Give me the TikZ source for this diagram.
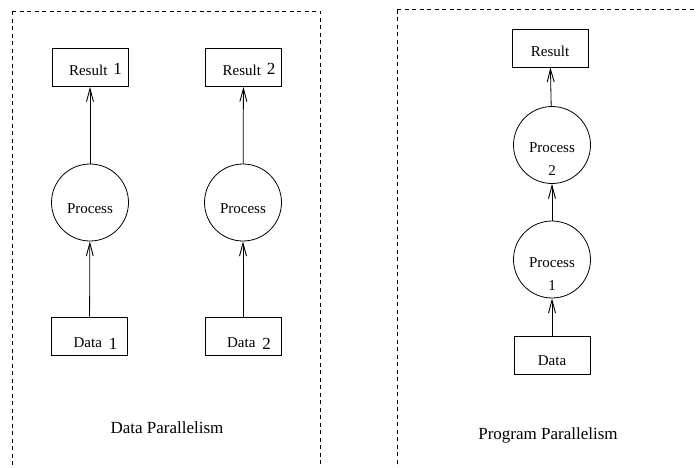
\documentclass[tikz,border=0pt]{standalone}
\usepackage{fontspec}
\setmainfont{Liberation Serif}
\usetikzlibrary{arrows.meta}
% set node text lowered by #1 without changing the node's size
\newcommand\lowtext[2]{\raisebox{-#1}[0pt][0pt]{#2}}
\newcommand\twoline[2]{\begin{tabular}[b]{@{}c@{}}#1\\[6pt]#2\end{tabular}}
\newcommand\idx[1]{{\fontsize{17}{19}\selectfont #1}}
\begin{document}
\begin{tikzpicture}[x=1pt,y=-1pt,
  frame/.style={draw, line width=0.7pt, dash pattern=on 4pt off 3.5pt},
  databox/.style={draw, line width=0.8pt, minimum width=76pt, minimum height=38pt, inner sep=0pt, font=\fontsize{15}{17}\selectfont},
  proc/.style={draw, circle, line width=0.8pt, minimum size=77pt, inner sep=0pt, font=\fontsize{15}{17}\selectfont},
  flow/.style={draw, line width=0.8pt, -{Straight Barb[length=13pt,width=7pt,line width=0.9pt]}},
  caption/.style={font=\fontsize{17}{19}\selectfont}]
\useasboundingbox (0,0) rectangle (696,467);
% dashed frames around the two halves
\draw[frame] (12,11) -- (320.5,11) -- (320.5,467);
\draw[frame] (12,11) -- (12,467);
\draw[frame] (397,9.5) -- (696,9.5);
\draw[frame] (397,9.5) -- (397,467);

% data parallelism
\node[databox] (r1) at (90,67.5) {\lowtext{8pt}{\hspace*{11pt}Result\hspace{6pt}\raisebox{1.5pt}{\idx{1}}}};
\node[databox] (r2) at (243.5,67.5) {\lowtext{8pt}{\hspace*{11pt}Result\hspace{6pt}\raisebox{1.5pt}{\idx{2}}}};
\node[proc] (p1) at (90,202.5) {\lowtext{10.5pt}{Process}};
\node[proc] (p2) at (243,202.5) {\lowtext{10.5pt}{Process}};
\node[databox] (d1) at (89.5,336) {\lowtext{11pt}{\hspace*{12pt}Data\hspace{7pt}\raisebox{-2pt}{\idx{1}}}};
\node[databox] (d2) at (243,336) {\lowtext{11pt}{\hspace*{12pt}Data\hspace{7pt}\raisebox{-2pt}{\idx{2}}}};
\draw[flow] (d1) -- (p1);
\draw[flow] (p1) -- (r1);
\draw[flow] (d2) -- (p2);
\draw[flow] (p2) -- (r2);
\node[caption] (c1) at (167,428) {Data Parallelism};

% program parallelism
\node[databox] (r) at (550,48) {\lowtext{8pt}{Result}};
\node[proc] (q2) at (552,145) {\lowtext{30pt}{\twoline{Process}{2}}};
\node[proc] (q1) at (552,259.5) {\lowtext{30.5pt}{\twoline{Process}{1}}};
\node[databox] (d) at (552,355.5) {\lowtext{9.5pt}{Data}};
\draw[flow] (d) -- (q1);
\draw[flow] (q1) -- (q2);
\draw[flow] (q2) -- (r);
\node[caption] (c2) at (548,435) {Program Parallelism};
\end{tikzpicture}
\end{document}
